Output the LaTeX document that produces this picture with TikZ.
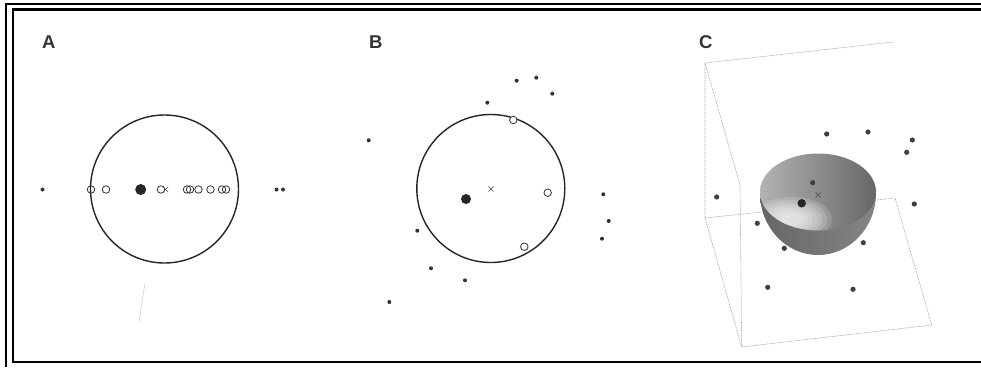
\documentclass[tikz,border=0pt]{standalone}
\usepackage{fontspec}
\setmainfont{Liberation Sans}
\usetikzlibrary{shapes.misc}
\begin{document}
\begin{tikzpicture}[x=1pt,y=-1pt,
  panellabel/.style={font=\bfseries\fontsize{18.5}{18.5}\selectfont, text=black!80, anchor=base west, inner sep=0pt},
  sdot/.style={circle, fill=black!80, inner sep=0pt, minimum size=4pt},
  cdot/.style={circle, fill=black!75, inner sep=0pt, minimum size=5.2pt},
  odot/.style={circle, draw=black!80, line width=0.8pt, inner sep=0pt, minimum size=7.5pt},
  bdot/.style={circle, fill=black!85, inner sep=0pt, minimum size=11pt},
  xmk/.style={cross out, draw=black!70, line width=0.6pt, inner sep=0pt, minimum size=4.5pt},
  ring/.style={circle, draw=black!85, line width=1.4pt, inner sep=0pt},
  boxline/.style={draw=black!40, line width=0.6pt, dash pattern=on 0.8pt off 0.8pt},
  framein/.style={draw=black, line width=2.4pt},
  frameout/.style={draw=black, line width=2pt},
]
\useasboundingbox (0,0) rectangle (981,367);
\fill[white] (0,0) rectangle (981,367);

% frame
\draw[frameout] (6,367) -- (6,4) -- (981,4);
\draw[framein] (981,9.5) -- (13,9.5) -- (13,362) -- (981,362);

% labels
\node[panellabel] (labA) at (42,48) {A};
\node[panellabel] (labB) at (369,48) {B};
\node[panellabel] (labC) at (699,48) {C};

% ---------- Panel A ----------
\node[ring, minimum size=148pt] (ringA) at (164.5,189) {};
\node[sdot] (a1) at (42.5,189.5) {};
\node[sdot] (a2) at (276.5,189.5) {};
\node[sdot] (a3) at (283,189.5) {};
\node[odot] (ao1) at (91,189.5) {};
\node[odot] (ao2) at (106,189.5) {};
\node[bdot] (ab) at (140.7,189.5) {};
\node[odot] (ao3) at (161,189.5) {};
\node[xmk] (ax) at (165.5,189.5) {};
\node[odot] (ao4) at (187,189.5) {};
\node[odot] (ao5) at (190,189.5) {};
\node[odot] (ao6) at (198.5,189.5) {};
\node[odot] (ao7) at (210.5,189.5) {};
\node[odot] (ao8) at (222,189.5) {};
\node[odot] (ao9) at (226,189.5) {};
\draw[black!18, line width=0.6pt] (145,283) -- (139,322);

% ---------- Panel B ----------
\node[ring, minimum size=148pt] (ringB) at (490.8,188.5) {};
\node[sdot] (b1) at (516.7,80.7) {};
\node[sdot] (b2) at (536.3,77.7) {};
\node[sdot] (b3) at (552.3,93.7) {};
\node[sdot] (b4) at (487.3,102.7) {};
\node[sdot] (b5) at (368.7,140.3) {};
\node[sdot] (b6) at (603.3,194.3) {};
\node[sdot] (b7) at (608.7,221) {};
\node[sdot] (b8) at (602,238.7) {};
\node[sdot] (b9) at (417.3,230.7) {};
\node[sdot] (b10) at (431,268.3) {};
\node[sdot] (b11) at (465,280.3) {};
\node[sdot] (b12) at (389.3,302) {};
\node[odot, fill=white] (bo1) at (513.3,120) {};
\node[odot, fill=white] (bo2) at (547.7,192.7) {};
\node[odot, fill=white] (bo3) at (524.3,246.7) {};
\node[bdot, minimum size=10pt] (bb) at (466,199) {};
\node[xmk] (bx) at (491,189) {};

% ---------- Panel C ----------
\coordinate (wTL) at (705,63);
\coordinate (wTR) at (893,42);
\coordinate (wBL) at (705,218);
\coordinate (sT) at (740,185);
\coordinate (fFL) at (741.7,347);
\coordinate (fBR) at (895,198);
\coordinate (fFR) at (931.7,325);
\draw[boxline] (wTR) -- (wTL) -- (wBL) -- (fFL) -- (fFR) -- (fBR) -- (wBL);
\draw[boxline] (wTL) -- (sT) -- (fFL);

% hemisphere
\begin{scope}
  \clip (700,193) rectangle (900,300);
  \shade[left color=black!60, right color=black!48] (818,193) ellipse [x radius=58, y radius=62];
\end{scope}
\begin{scope}
  \clip (818,192) ellipse [x radius=58, y radius=38.5];
  \shade[left color=black!30, middle color=black!36, right color=black!60] (760,150) rectangle (877,232);
  \foreach \s in {1.0,0.88,0.76,0.64,0.52,0.40,0.28}
    \fill[white, opacity=0.16] (792,219) ellipse [x radius=40*\s, y radius=22*\s];
\end{scope}

\node[cdot] (c1) at (826.7,134) {};
\node[cdot] (c2) at (868,132) {};
\node[cdot] (c3) at (912.3,140) {};
\node[cdot] (c4) at (906.7,152.3) {};
\node[cdot] (c5) at (716.7,197) {};
\node[cdot] (c6) at (914.3,204) {};
\node[cdot] (c7) at (812.7,182.7) {};
\node[cdot] (c8) at (757.3,223.3) {};
\node[cdot] (c9) at (784.3,248.3) {};
\node[cdot] (c10) at (863.3,242.7) {};
\node[cdot] (c11) at (767.7,287.3) {};
\node[cdot] (c12) at (853,289.3) {};
\node[bdot, minimum size=8.5pt] (cb) at (801.7,203.3) {};
\node[xmk] (cx) at (818.3,195) {};
\end{tikzpicture}
\end{document}
